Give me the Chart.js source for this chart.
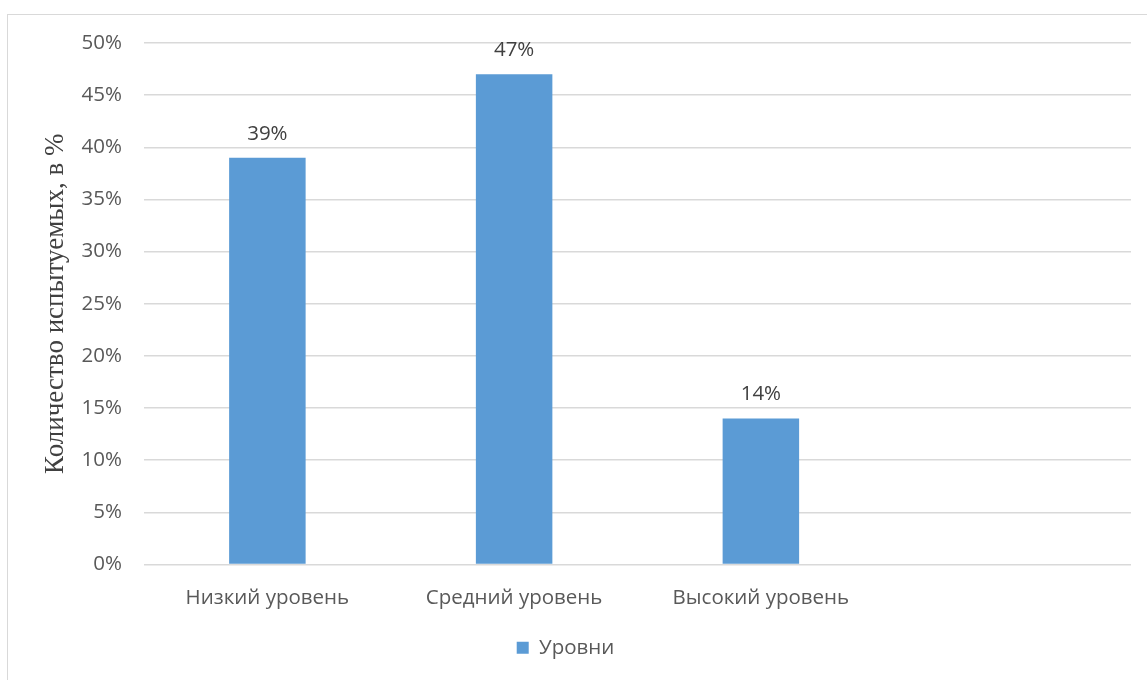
<!DOCTYPE html>
<html>
<head>
<meta charset="utf-8">
<script src="https://cdn.jsdelivr.net/npm/chart.js@4.4.1/dist/chart.umd.min.js"></script>
<style>
  body { margin: 0; background: #fff; }
  #frame {
    position: absolute; left: 7px; top: 14px; width: 1150px; height: 680px;
    border: 1px solid #d9d9d9; box-sizing: border-box;
  }
  #chart { position: absolute; left: 0; top: 0; }
</style>
</head>
<body>
<div id="frame"></div>
<canvas id="chart" width="1147" height="680"></canvas>
<script>
// categories (last slot is empty in the original)
const categories = ["Низкий уровень", "Средний уровень", "Высокий уровень", ""];
const seriesName = "Уровни";
const levels = [39, 47, 14, null];
const yTicks = [0, 5, 10, 15, 20, 25, 30, 35, 40, 45, 50];

const barColor = "#5b9bd5";
const textColor = "#595959";

// labels above bars
const valueLabels = {
    id: "valueLabels",
    afterDatasetsDraw(chart) {
        const ctx = chart.ctx;
        const meta = chart.getDatasetMeta(0);
        ctx.save();
        ctx.font = "20.5px 'Open Sans'";
        ctx.fillStyle = "#404040";
        ctx.textAlign = "center";
        ctx.textBaseline = "middle";
        meta.data.forEach((bar, i) => {
            const v = chart.data.datasets[0].data[i];
            if (v == null) return;
            ctx.fillText(v + "%", bar.x, bar.y - 24);
        });
        ctx.restore();
    }
};

new Chart(document.getElementById("chart").getContext("2d"), {
    type: "bar",
    data: {
        labels: categories,
        datasets: [{
            label: seriesName,
            data: levels,
            backgroundColor: barColor,
            borderWidth: 0,
            barPercentage: 0.62,
            categoryPercentage: 0.5
        }]
    },
    options: {
        responsive: false,
        animation: false,
        layout: { padding: { left: 0, right: 16, top: 43, bottom: 12 } },
        plugins: {
            legend: {
                position: "bottom",
                labels: {
                    boxWidth: 12, boxHeight: 12, padding: 10,
                    color: textColor,
                    font: { family: "'Open Sans'", size: 20.5 }
                }
            },
            tooltip: { enabled: false }
        },
        scales: {
            x: {
                grid: { display: false },
                border: { display: false },
                ticks: {
                    color: textColor, padding: 13, maxRotation: 0,
                    font: { family: "'Open Sans'", size: 20.5 }
                },
                afterFit(s) { s.height = 63; }
            },
            y: {
                min: 0, max: 50,
                afterBuildTicks(s) { s.ticks = yTicks.map(v => ({ value: v })); },
                grid: { color: "#d9d9d9", lineWidth: 1.5, drawTicks: false },
                border: { display: false },
                ticks: {
                    color: textColor, padding: 22,
                    font: { family: "'Open Sans'", size: 20.5 },
                    callback: v => v + "%"
                },
                title: {
                    display: true,
                    text: "Количество испытуемых, в %",
                    color: "#404040",
                    padding: { top: 40, bottom: 0 },
                    font: { family: "'Liberation Serif'", size: 27 }
                },
                afterFit(s) { s.width = 144; }
            }
        }
    },
    plugins: [valueLabels]
});
</script>
</body>
</html>
